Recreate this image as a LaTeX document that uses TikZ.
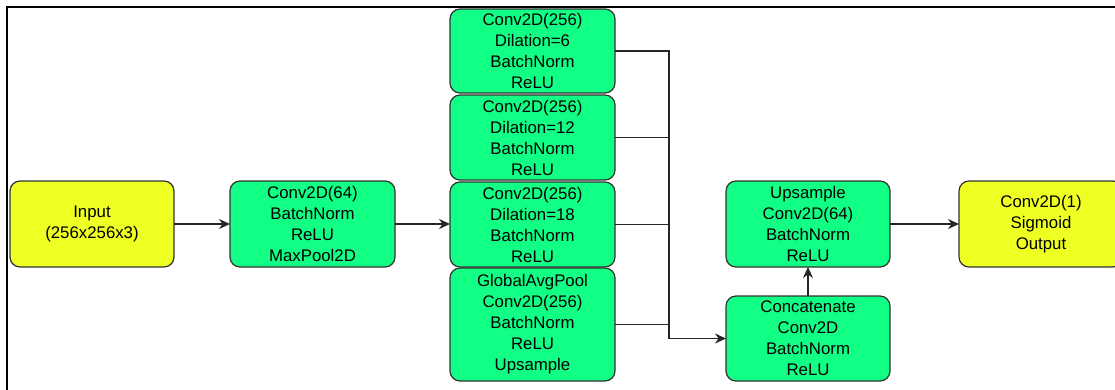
\documentclass[tikz,border=0pt]{standalone}
\usepackage{fontspec}
\setmainfont{Liberation Sans}
\usetikzlibrary{arrows.meta,calc}
\definecolor{layergreen}{RGB}{16,255,132}
\definecolor{ioyellow}{RGB}{238,255,36}
\definecolor{edgegray}{RGB}{50,50,50}
\tikzset{
  layer/.style={draw=edgegray, line width=1.2pt, rounded corners=10pt,
    fill=layergreen, align=center, inner sep=0pt, outer sep=0pt,
    font=\fontsize{16.8}{21}\selectfont},
  iobox/.style={layer, fill=ioyellow},
  flow/.style={draw=black!85, line width=1.4pt,
    -{Stealth[length=11pt,width=10pt]}},
  wire/.style={draw=black!85, line width=1.4pt}
}
\begin{document}
\begin{tikzpicture}[x=1pt,y=-1pt]
\useasboundingbox (0,0) rectangle (1115,389);
\clip (0,0) rectangle (1115,389);
% frame
\draw[line width=2.2pt] (7,392) -- (7,7) -- (1120,7);

% encoder
\node[iobox, minimum width=164, minimum height=86] (inp) at (92,224) {Input\\(256x256x3)};
\node[layer, minimum width=165, minimum height=86] (c64) at (312.5,224) {Conv2D(64)\\BatchNorm\\ReLU\\MaxPool2D};

% ASPP branches
\node[layer, minimum width=165, minimum height=84] (a1) at (532.5,51) {Conv2D(256)\\Dilation=6\\BatchNorm\\ReLU};
\node[layer, minimum width=165, minimum height=85] (a2) at (532.5,137.5) {Conv2D(256)\\Dilation=12\\BatchNorm\\ReLU};
\node[layer, minimum width=165, minimum height=85] (a3) at (532.5,224.5) {Conv2D(256)\\Dilation=18\\BatchNorm\\ReLU};
\node[layer, minimum width=165, minimum height=113] (a4) at (532.5,324.5) {GlobalAvgPool\\Conv2D(256)\\BatchNorm\\ReLU\\Upsample};

% decoder
\node[layer, minimum width=164, minimum height=85] (cat) at (808,338.5) {Concatenate\\Conv2D\\BatchNorm\\ReLU};
\node[layer, minimum width=164, minimum height=86] (up) at (808,224) {Upsample\\Conv2D(64)\\BatchNorm\\ReLU};
\node[iobox, minimum width=164, minimum height=86] (out) at (1041,224) {Conv2D(1)\\Sigmoid\\Output};

% connectors
\coordinate (bus) at (669,0);
\draw[flow] (inp.east) -- (c64.west);
\draw[flow] (c64.east) -- (c64.east -| a3.west);
\draw[flow] (a1.east) -- (a1.east -| bus) |- (cat.west);
\draw[wire] (a2.east) -- (a2.east -| bus);
\draw[wire] (a3.east) -- (a3.east -| bus);
\draw[wire] (a4.east) -- (a4.east -| bus);
\draw[flow] (cat.north) -- (up.south);
\draw[flow] (up.east) -- (out.west);
\end{tikzpicture}
\end{document}
